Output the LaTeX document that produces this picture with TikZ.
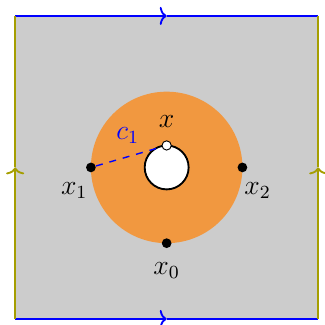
\documentclass[tikz,border=0pt]{standalone}
\usetikzlibrary{arrows.meta}
\definecolor{diskorange}{RGB}{241,152,64}
\definecolor{sideolive}{RGB}{165,158,0}
\tikzset{
  pt/.style={circle, fill=black, inner sep=0pt, minimum size=4.2pt},
  hollowpt/.style={circle, draw=black, fill=white, line width=0.4pt, inner sep=0pt, minimum size=4pt},
  lbl/.style={font=\large},
  midtip/.style={-{To[length=3pt, width=7.8pt]}}
}
\begin{document}
\begin{tikzpicture}[x=0.575cm, y=0.575cm]
            \useasboundingbox (-4.40,-4.16) rectangle (4.16,4.42);
            % Square
            \fill[gray!40] (-4,-4) rectangle (4,4);
            \coordinate (ll) at (-4,-4);
            \coordinate (lr) at (4,-4);
            \coordinate (ul) at (-4,4);
            \coordinate (ur) at (4,4);
            \coordinate (tm) at (0,4);
            \coordinate (bm) at (0,-4);
            \coordinate (lm) at (-4,0);
            \coordinate (rm) at (4,0);
            % Disk and hole
            \fill[diskorange] (0,0) circle (2);
            \draw[thick, fill=white] (0,0) circle (0.58);
            % Points
            \node[hollowpt] (x) at (0,0.58) {};
            \node[pt] (x1) at (-2,0) {};
            \node[pt] (x2) at (2,0) {};
            \node[pt] (x0) at (0,-2) {};
            \node[lbl] (lx) at (0,1.2) {$x$};
            \node[lbl] (lx1) at (-2.44,-0.6) {$x_1$};
            \node[lbl] (lx2) at (2.40,-0.6) {$x_2$};
            \node[lbl] (lx0) at (0,-2.73) {$x_0$};
            % Path c_1
            \draw[semithick, blue, dashed] (x1) -- (x);
            \node[lbl, blue] (lc1) at (-1.03,0.84) {$c_1$};
            % Boundary
            \draw[thick, blue, midtip] (ul) -- (tm);
            \draw[thick, blue] (tm) -- (ur);
            \draw[thick, blue, midtip] (ll) -- (bm);
            \draw[thick, blue] (bm) -- (lr);
            \draw[thick, sideolive, midtip] (ll) -- (lm);
            \draw[thick, sideolive] (lm) -- (ul);
            \draw[thick, sideolive, midtip] (lr) -- (rm);
            \draw[thick, sideolive] (rm) -- (ur);
\end{tikzpicture}
\end{document}
